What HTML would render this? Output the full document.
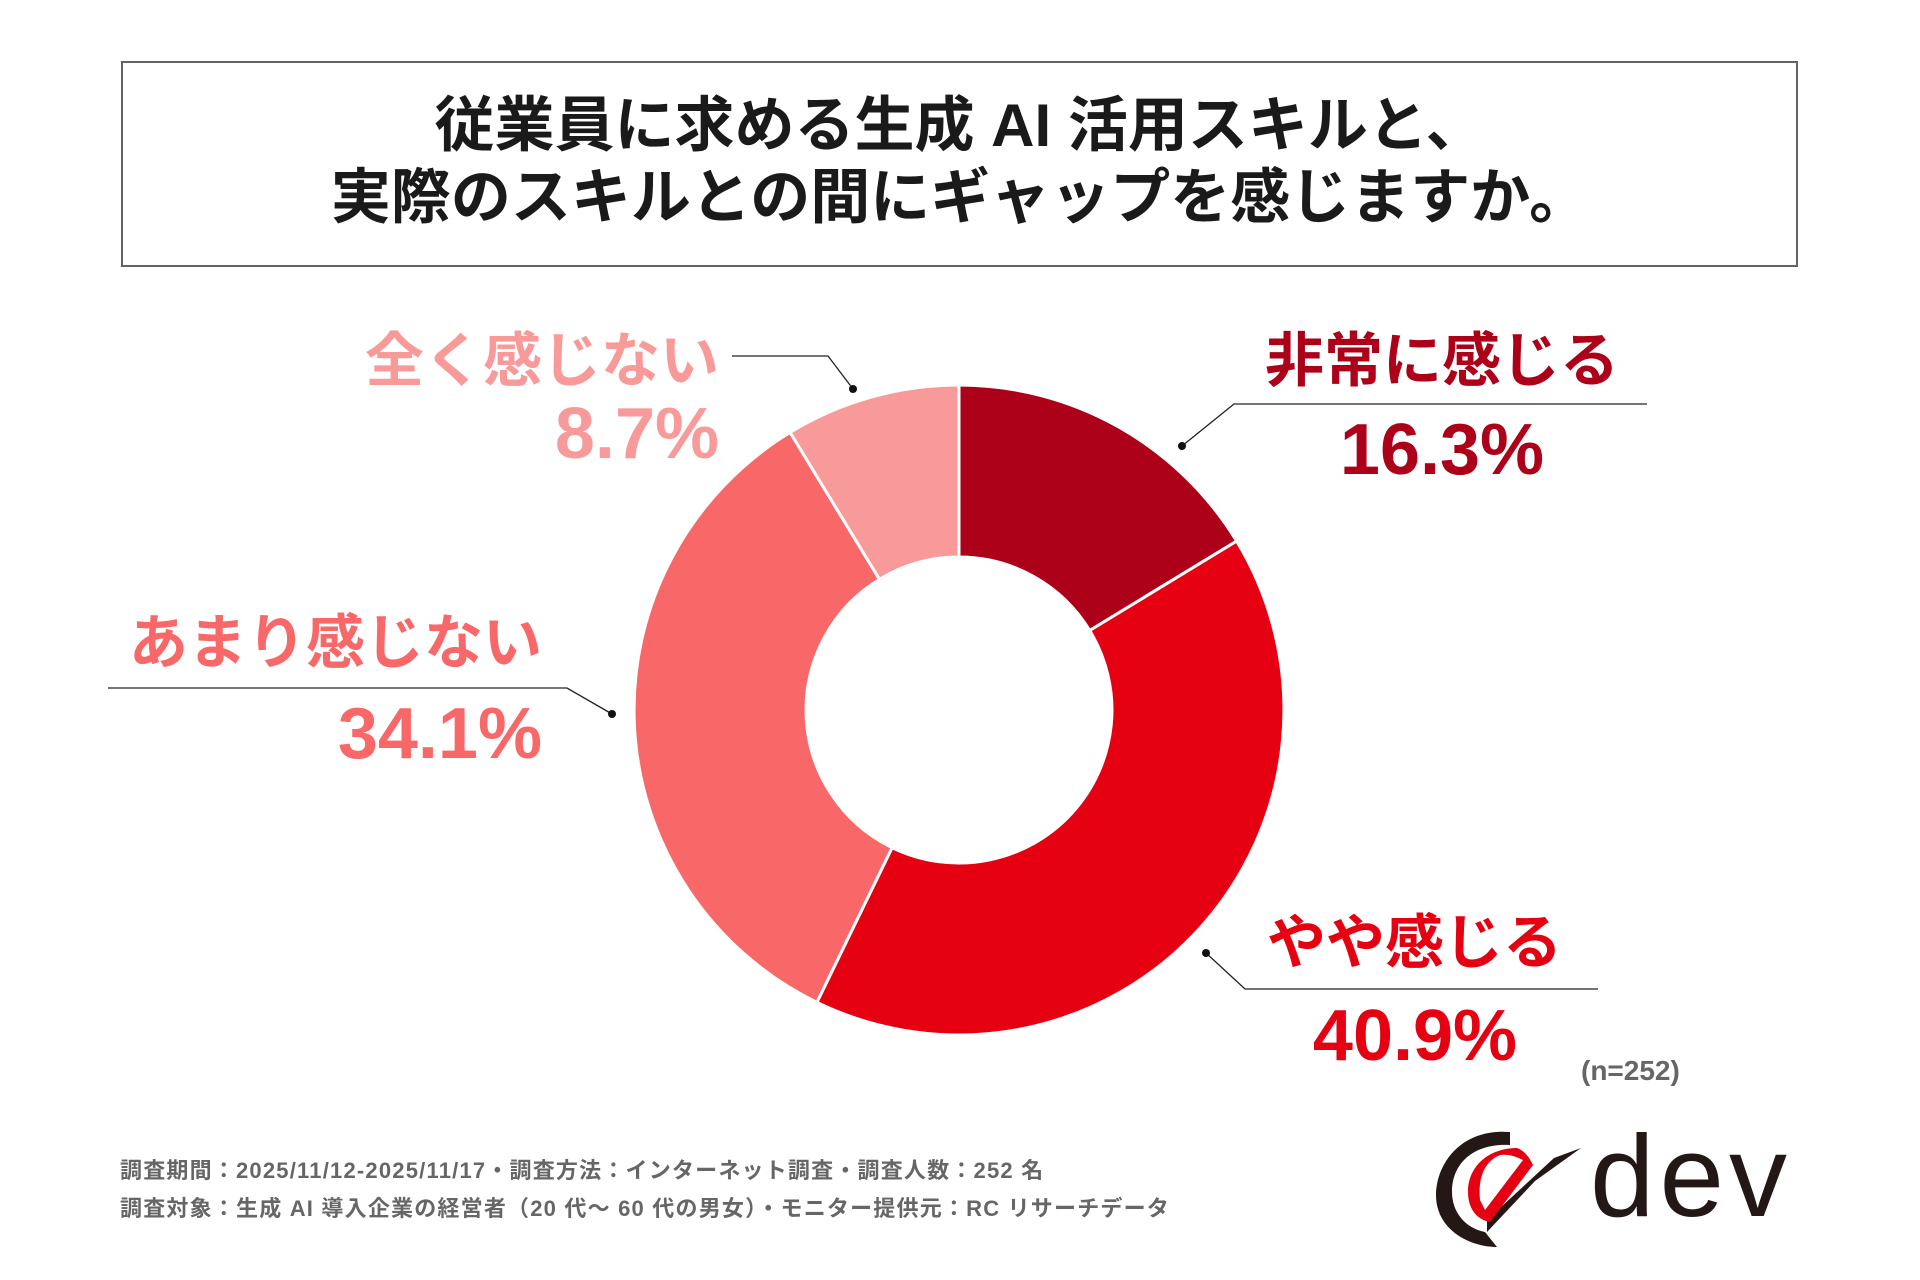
<!DOCTYPE html>
<html><head><meta charset="utf-8"><style>
html,body{margin:0;padding:0;background:#fff;}
body{width:1920px;height:1280px;position:relative;overflow:hidden;font-family:"Liberation Sans","Noto Sans CJK JP",sans-serif;}
.t{position:absolute;white-space:nowrap;font-weight:700;line-height:1;}
</style></head><body>
<div style="position:absolute;left:121px;top:61px;width:1673px;height:202px;border:2px solid #5f6468;"></div>
<div class="t" style="left:0;width:1920px;text-align:center;top:96px;font-size:60px;color:#1a1a1a;">従業員に求める生成 AI 活用スキルと、</div>
<div class="t" style="left:0;width:1920px;text-align:center;top:168px;font-size:60px;color:#1a1a1a;">実際のスキルとの間にギャップを感じますか。</div>

<svg width="1920" height="1280" style="position:absolute;left:0;top:0">
<g stroke="#fff" stroke-width="3" stroke-linejoin="round">
<path d="M959,385 A325,325 0 0 1 1236.6,541.1 L1089.7,630.5 A153,153 0 0 0 959,557 Z" fill="#AD0019"/>
<path d="M1236.6,541.1 A325,325 0 0 1 816.9,1002.3 L892.1,847.6 A153,153 0 0 0 1089.7,630.5 Z" fill="#E50012"/>
<path d="M816.9,1002.3 A325,325 0 0 1 790.1,432.4 L879.5,579.3 A153,153 0 0 0 892.1,847.6 Z" fill="#F86868"/>
<path d="M790.1,432.4 A325,325 0 0 1 959,385 L959,557 A153,153 0 0 0 879.5,579.3 Z" fill="#F89A9A"/>
</g>
<g stroke="#222" stroke-width="1.3" fill="none">
<polyline points="1182,446 1234,404 1647,404"/>
<polyline points="1206,953 1245,989 1598,989"/>
<polyline points="108,688 567,688 612,714"/>
<polyline points="732,356 828,356 853,389"/>
</g>
<g fill="#111">
<circle cx="1182" cy="446" r="4"/><circle cx="1206" cy="953" r="4"/>
<circle cx="612" cy="714" r="4"/><circle cx="853" cy="389" r="4"/>
</g>
<path d="M1510,1132 C1460,1128 1436,1165 1436,1195 C1436,1230 1470,1247 1497,1247 L1485,1232 C1465,1228 1452,1212 1452,1192 C1452,1162 1475,1143 1510,1145 Z" fill="#231815"/>
<path d="M1487,1232 L1535,1181 L1581,1148 L1554,1158 L1487,1220 Z" fill="#231815"/>
<path d="M1517,1148 C1490,1148 1468,1165 1468,1192 C1468,1210 1478,1220 1490,1222 L1533,1165 C1528,1155 1523,1150 1517,1148 Z M1500,1155 C1483,1162 1478,1180 1480,1200 L1485,1210 L1523,1160 C1515,1156 1508,1154 1500,1155 Z" fill="#E50012" fill-rule="evenodd"/>
</svg>

<div class="t" style="left:1265px;top:332px;font-size:59px;color:#AD0019;">非常に感じる</div>
<div class="t" style="left:1332px;width:220px;text-align:center;top:414px;font-size:72px;color:#AD0019;">16.3%</div>
<div class="t" style="left:1267px;top:914px;font-size:59px;color:#E50012;">やや感じる</div>
<div class="t" style="left:1300px;width:230px;text-align:center;top:1000px;font-size:72px;color:#E50012;">40.9%</div>
<div class="t" style="left:100px;width:442px;text-align:right;top:614px;font-size:59px;color:#F86868;">あまり感じない</div>
<div class="t" style="left:100px;width:442px;text-align:right;top:698px;font-size:72px;color:#F86868;">34.1%</div>
<div class="t" style="left:300px;width:419px;text-align:right;top:332px;font-size:59px;color:#F89A9A;">全く感じない</div>
<div class="t" style="left:300px;width:419px;text-align:right;top:398px;font-size:72px;color:#F89A9A;">8.7%</div>
<div class="t" style="left:1581px;top:1057px;font-size:28px;color:#666;">(n=252)</div>
<div class="t" style="left:120px;top:1160px;font-size:22px;letter-spacing:1.2px;color:#666;">調査期間：2025/11/12-2025/11/17・調査方法：インターネット調査・調査人数：252 名</div>
<div class="t" style="left:120px;top:1198px;font-size:22px;letter-spacing:1.2px;color:#666;">調査対象：生成 AI 導入企業の経営者（20 代～ 60 代の男女）・モニター提供元：RC リサーチデータ</div>
<div class="t" style="left:1590px;top:1118px;font-size:116px;font-weight:400;color:#231815;letter-spacing:5px;">dev</div>
</body></html>
